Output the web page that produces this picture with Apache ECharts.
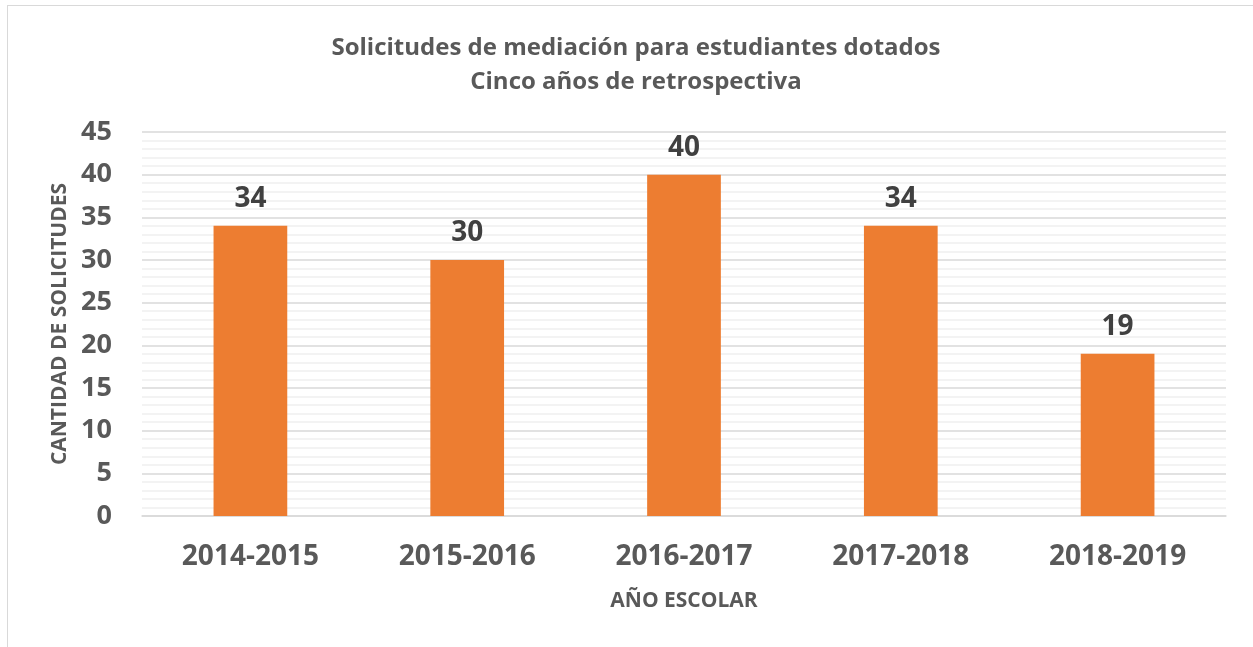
<!DOCTYPE html>
<html><head><meta charset="utf-8">
<script src="https://cdn.jsdelivr.net/npm/echarts@6/dist/echarts.min.js"></script>
<style>html,body{margin:0;padding:0;background:#fff}#c{width:1253px;height:647px;position:relative}
#frame{position:absolute;left:7px;top:5px;width:1260px;height:700px;border:1.5px solid #d9d9d9;pointer-events:none}</style>
</head><body><div id="c"></div><div id="frame"></div>
<script>
const categories = ['2014-2015','2015-2016','2016-2017','2017-2018','2018-2019'];
const values = [34, 30, 40, 34, 19];
const yTicks = {min: 0, max: 45, interval: 5};
const titleLines = ['Solicitudes de mediación para estudiantes dotados','Cinco años de retrospectiva'];
const chart = echarts.init(document.getElementById('c'));
const font = 'Open Sans, Noto Sans, sans-serif';
chart.setOption({
  animation: false,
  title: {text: titleLines.join('\n'), left: 631, textAlign: 'center', top: 26,
    textStyle: {fontFamily: font, fontSize: 24, fontWeight: 'bold', color: '#595959', lineHeight: 34}},
  grid: {left: 142, right: 27, top: 132, bottom: 131},
  xAxis: {type: 'category', data: categories,
    name: 'AÑO ESCOLAR', nameLocation: 'middle', nameGap: 75,
    nameTextStyle: {fontFamily: font, fontSize: 21, fontWeight: 'bold', color: '#595959'},
    axisLine: {lineStyle: {color: '#d9d9d9', width: 1.5}}, axisTick: {show: false},
    axisLabel: {fontFamily: font, fontSize: 28, fontWeight: 'bold', color: '#595959', margin: 27}},
  yAxis: {type: 'value', min: yTicks.min, max: yTicks.max, interval: yTicks.interval,
    name: 'CANTIDAD DE SOLICITUDES', nameLocation: 'middle', nameGap: 71, nameRotate: 90,
    nameTextStyle: {fontFamily: font, fontSize: 21, fontWeight: 'bold', color: '#595959'},
    axisLine: {show: false}, axisTick: {show: false},
    axisLabel: {fontFamily: font, fontSize: 27, fontWeight: 'bold', color: '#595959', margin: 30},
    splitLine: {lineStyle: {color: '#d9d9d9', width: 1.5}},
    minorTick: {show: false, splitNumber: 5},
    minorSplitLine: {show: true, lineStyle: {color: '#efefef', width: 1.5}}},
  series: [{type: 'bar', data: values, barWidth: '34%',
    itemStyle: {color: '#ed7d31'},
    label: {show: true, position: 'top', distance: 13, fontFamily: font, fontSize: 28, fontWeight: 'bold', color: '#404040'}}]
});
</script></body></html>
